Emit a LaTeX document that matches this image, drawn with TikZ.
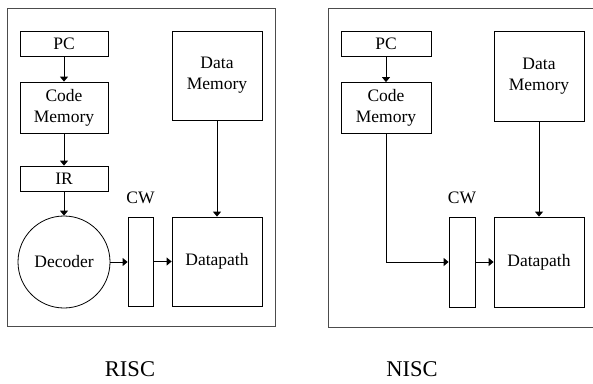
\documentclass[tikz,border=0pt]{standalone}
\usepackage{fontspec}
\setmainfont{Liberation Serif}
\usetikzlibrary{arrows.meta}
\begin{document}
\begin{tikzpicture}[x=1pt,y=-1pt,
  blk/.style={draw, line width=0.8pt, inner sep=0pt, font=\fontsize{17.5}{21}\selectfont, align=center},
  frame/.style={draw, line width=1pt, black!70},
  arr/.style={line width=0.9pt, -{Triangle[length=5pt,width=8pt]}},
  lbl/.style={font=\fontsize{17.5}{21}\selectfont},
  captxt/.style={font=\fontsize{22.5}{24}\selectfont}]
\useasboundingbox (0,0) rectangle (593,383);
\clip (0,0) rectangle (593,383);
% frames
\draw[frame] (7,8) rectangle (275,326);
\draw[frame] (328,8) rectangle (600,327);
% RISC
\node[blk, minimum width=88pt, minimum height=25pt] (pc1) at (64,43.5) {PC};
\node[blk, minimum width=88pt, minimum height=51pt] (cm1) at (64,107.5) {Code\\Memory};
\node[blk, minimum width=88pt, minimum height=25pt] (ir1) at (64,178.5) {IR};
\node[blk, circle, minimum size=92pt] (dec1) at (64,262) {Decoder};
\node[blk, minimum width=25pt, minimum height=89pt] (cw1) at (140.5,261.5) {};
\node[lbl] (cwl1) at (140.5,198) {CW};
\node[blk, minimum width=90pt, minimum height=89pt] (dp1) at (217,261.5) {Datapath};
\node[blk, minimum width=90pt, minimum height=89pt] (dm1) at (217,75.5) {Data\\Memory};
\draw[arr] (pc1) -- (cm1);
\draw[arr] (cm1) -- (ir1);
\draw[arr] (ir1) -- (dec1);
\draw[arr] (dec1.east) -- (cw1.west |- dec1.east);
\draw[arr] (cw1.east |- dp1.west) -- (dp1.west);
\draw[arr] (dm1) -- (dp1);
% NISC
\node[blk, minimum width=90pt, minimum height=25pt] (pc2) at (386,43.5) {PC};
\node[blk, minimum width=90pt, minimum height=51pt] (cm2) at (386,108) {Code\\Memory};
\node[blk, minimum width=26pt, minimum height=90pt] (cw2) at (462,262) {};
\node[lbl] (cwl2) at (462,198) {CW};
\node[blk, minimum width=90pt, minimum height=90pt] (dp2) at (539,262) {Datapath};
\node[blk, minimum width=90pt, minimum height=90pt] (dm2) at (539,76) {Data\\Memory};
\coordinate (bend) at (cm2.south |- cw2.west);
\draw[arr] (pc2) -- (cm2);
\draw[arr] (cm2.south) -- (bend) -- (cw2.west);
\draw[arr] (cw2.east) -- (dp2.west);
\draw[arr] (dm2) -- (dp2);
% captions
\node[captxt] (risc) at (130,369) {RISC};
\node[captxt] (nisc) at (412,369) {NISC};
\end{tikzpicture}
\end{document}
